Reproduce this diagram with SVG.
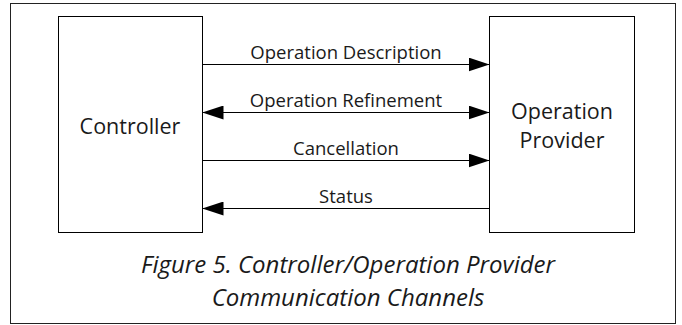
<svg xmlns="http://www.w3.org/2000/svg" width="682" height="325" viewBox="0 0 682 325">
  <style>
    .frame { fill: #ffffff; stroke: #222222; stroke-width: 1; }
    .box { fill: #ffffff; stroke: #000000; stroke-width: 1; }
    .link { stroke: #000000; stroke-width: 1; fill: none; }
    .name { font-family: "Open Sans", "Noto Sans", sans-serif; font-size: 21.5px; fill: #1a1a1a; text-anchor: middle; }
    .label { font-family: "Open Sans", "Noto Sans", sans-serif; font-size: 18.5px; fill: #1a1a1a; text-anchor: middle; }
    .caption { font-family: "Open Sans", "Noto Sans", sans-serif; font-size: 24px; font-style: italic; fill: #1a1a1a; text-anchor: middle; }
  </style>
  <defs>
    <marker id="head" viewBox="0 0 21 14" refX="21" refY="7" markerWidth="21" markerHeight="14" markerUnits="userSpaceOnUse" orient="auto-start-reverse">
      <path d="M0,0 L21,7 L0,14 Z" fill="#000000"/>
    </marker>
  </defs>

  <rect class="frame" x="10.5" y="3.5" width="665" height="320"/>

  <g id="controller">
    <rect class="box" x="58.5" y="16.5" width="144" height="216"/>
    <text class="name" x="130" y="134">Controller</text>
  </g>

  <g id="operation-provider">
    <rect class="box" x="489.5" y="16.5" width="145" height="216"/>
    <text class="name" x="562" y="119">Operation</text>
    <text class="name" x="562" y="148">Provider</text>
  </g>

  <g id="connectors">
    <line class="link" x1="202.5" y1="64.5" x2="489.5" y2="64.5" marker-end="url(#head)"/>
    <line class="link" x1="202.5" y1="112.5" x2="489.5" y2="112.5" marker-start="url(#head)" marker-end="url(#head)"/>
    <line class="link" x1="202.5" y1="160.5" x2="489.5" y2="160.5" marker-end="url(#head)"/>
    <line class="link" x1="489.5" y1="208.5" x2="202.5" y2="208.5" marker-end="url(#head)"/>
    <text class="label" x="346" y="59">Operation Description</text>
    <text class="label" x="346" y="107">Operation Refinement</text>
    <text class="label" x="346" y="155">Cancellation</text>
    <text class="label" x="346" y="203">Status</text>
  </g>

  <g id="caption">
    <text class="caption" x="348" y="273">Figure 5. Controller/Operation Provider</text>
    <text class="caption" x="348" y="306">Communication Channels</text>
  </g>
</svg>
